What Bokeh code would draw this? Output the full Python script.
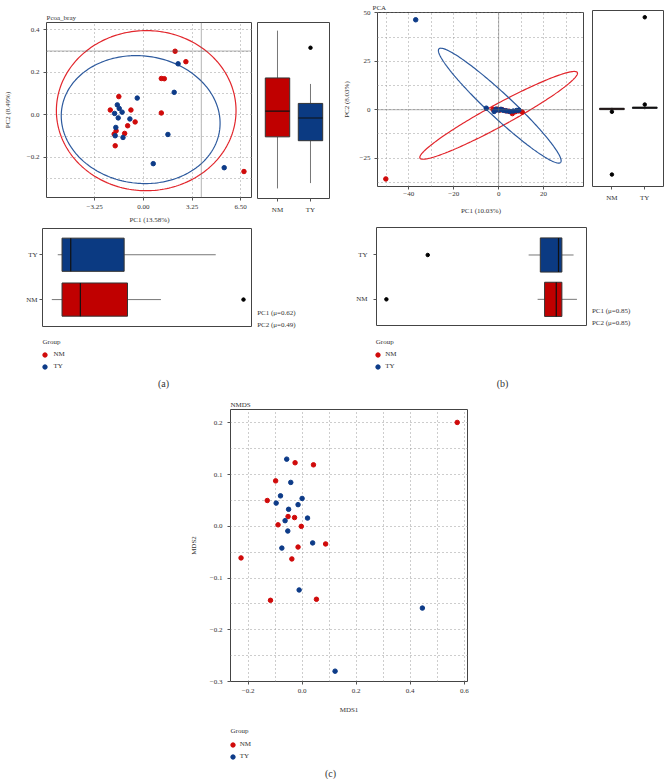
import numpy as np
from bokeh.plotting import figure
from bokeh.models import FixedTicker, Span, Label, Legend, LegendItem, Spacer
from bokeh.layouts import column, row
from bokeh.embed import file_html
from bokeh.resources import INLINE

# ---------------- data ----------------
groups = ["NM", "TY"]
group_pos = [1, 2]

# (a) PCoA (bray)
pcoa_nm_x = [2.12, 2.84, 1.20, 1.40, -1.64, -2.21, -0.83, 1.20, -0.55, -1.05, -1.25, -1.95, -1.82, -1.88, 6.72]
pcoa_nm_y = [0.299, 0.250, 0.171, 0.170, 0.086, 0.023, 0.023, 0.009, -0.033, -0.051, -0.087, -0.090, -0.075, -0.145, -0.266]
pcoa_ty_x = [2.32, 2.06, -0.41, -1.74, -1.61, -1.42, -1.92, -1.68, -0.90, -1.84, -1.88, -1.36, 1.64, 0.66, 5.40]
pcoa_ty_y = [0.240, 0.106, 0.079, 0.047, 0.030, 0.013, 0.007, -0.014, -0.019, -0.059, -0.098, -0.106, -0.092, -0.229, -0.248]
pcoa_x_ticks = [-3.25, 0.0, 3.25, 6.5]
pcoa_x_labels = ["\u22123.25", "0.00", "3.25", "6.50"]
pcoa_y_ticks = [-0.2, 0.0, 0.2, 0.4]
pcoa_y_labels = ["\u22120.2", "0.0", "0.2", "0.4"]
pcoa_ygrid = [-0.3, -0.2, -0.1, 0.0, 0.1, 0.2, 0.3, 0.4]
pcoa_ref_x = 3.87
pcoa_ref_y = 0.3
pcoa_ell_nm = dict(c=(0.19, 0.02), u=(6.0, 0.0), v=(0.0, 0.376))
pcoa_ell_ty = dict(c=(-0.18, -0.022), u=(5.28, -0.046), v=(-0.51, -0.297))
pcoa_pc2_lo = [-0.341, -0.316]
pcoa_pc2_q1 = [-0.100, -0.118]
pcoa_pc2_med = [0.020, -0.012]
pcoa_pc2_q3 = [0.175, 0.056]
pcoa_pc2_hi = [0.396, 0.147]
pcoa_pc2_out_grp = [2]
pcoa_pc2_out_val = [0.316]
pcoa_pc1_lo = [-5.86, -5.47]
pcoa_pc1_q1 = [-5.19, -5.19]
pcoa_pc1_med = [-3.99, -4.62]
pcoa_pc1_q3 = [-0.90, -1.12]
pcoa_pc1_hi = [1.29, 4.88]
pcoa_pc1_out_grp = [1]
pcoa_pc1_out_val = [6.70]
pcoa_mu = ["PC1 (\u03bc=0.62)", "PC2 (\u03bc=0.49)"]

# (b) PCA
pca_nm_x = [-50.2, -2.5, -1.5, -0.5, 0.5, 1.5, 3.0, 4.5, 6.1, 7.5, 9.0, 10.5]
pca_nm_y = [-35.7, 0.2, -0.3, 0.3, -0.2, 0.1, -0.5, -0.8, -2.0, -1.0, -0.6, -1.2]
pca_ty_x = [-36.9, -5.5, -2.0, -1.2, 0.0, 1.0, 2.0, 3.5, 5.0, 6.5, 8.0, 9.0]
pca_ty_y = [46.4, 0.8, -0.9, 0.3, -0.2, 0.2, -0.3, -0.6, -0.9, -0.7, -0.4, -0.2]
pca_x_ticks = [-40, -20, 0, 20]
pca_x_labels = ["\u221240", "\u221220", "0", "20"]
pca_y_ticks = [-25, 0, 25, 50]
pca_y_labels = ["\u221225", "0", "25", "50"]
pca_xgrid = [-50, -40, -30, -20, -10, 0, 10, 20, 30]
pca_ygrid = [-37.5, -25, -12.5, 0, 12.5, 25, 37.5, 50]
pca_ell_nm = dict(c=(0.0, -2.9), u=(35.0, 22.1), v=(2.4, -4.9))
pca_ell_ty = dict(c=(0.5, 2.1), u=(27.05, -29.3), v=(3.7, 4.4))
pca_pc2_lo = [-0.8, -0.3]
pca_pc2_q1 = [-0.4, 0.2]
pca_pc2_med = [0.0, 0.6]
pca_pc2_q3 = [0.3, 0.9]
pca_pc2_hi = [0.6, 1.3]
pca_pc2_out_grp = [1, 1, 2, 2]
pca_pc2_out_val = [-1.5, -33.5, 2.2, 46.7]
pca_pc1_lo = [17.5, 13.5]
pca_pc1_q1 = [20.6, 18.7]
pca_pc1_med = [25.8, 26.8]
pca_pc1_q3 = [28.3, 28.3]
pca_pc1_hi = [35.0, 33.5]
pca_pc1_out_grp = [1, 2]
pca_pc1_out_val = [-49.8, -31.4]
pca_mu = ["PC1 (\u03bc=0.85)", "PC2 (\u03bc=0.85)"]

# (c) NMDS
nmds_nm_x = [-0.026, 0.042, -0.098, -0.129, -0.052, -0.028, -0.089, -0.003, 0.087, -0.015, -0.038, -0.226, -0.117, 0.053, 0.574]
nmds_nm_y = [0.123, 0.119, 0.088, 0.050, 0.019, 0.017, 0.003, 0.000, -0.034, -0.040, -0.063, -0.061, -0.143, -0.141, 0.201]
nmds_ty_x = [-0.057, -0.042, -0.080, -0.096, 0.000, -0.015, -0.050, 0.020, -0.063, -0.053, 0.039, -0.075, -0.011, 0.445, 0.122]
nmds_ty_y = [0.130, 0.085, 0.059, 0.045, 0.054, 0.042, 0.033, 0.016, 0.011, -0.009, -0.032, -0.042, -0.123, -0.158, -0.280]
nmds_x_ticks = [-0.2, 0.0, 0.2, 0.4, 0.6]
nmds_x_labels = ["\u22120.2", "0.0", "0.2", "0.4", "0.6"]
nmds_y_ticks = [-0.3, -0.2, -0.1, 0.0, 0.1, 0.2]
nmds_y_labels = ["\u22120.3", "\u22120.2", "\u22120.1", "0.0", "0.1", "0.2"]
nmds_xgrid = [-0.2, -0.1, 0.0, 0.1, 0.2, 0.3, 0.4, 0.5, 0.6]
nmds_ygrid = [-0.3, -0.25, -0.2, -0.15, -0.1, -0.05, 0.0, 0.05, 0.1, 0.15, 0.2]

# ---------------- styling ----------------
FONT = "Liberation Serif"
FS = "7px"
TXT = "#333333"
RED = "#d00a0a"
BLUE = "#0d3b88"
RED_FILL = "#c00000"
BLUE_FILL = "#0b3a82"
RED_LINE = "#e2262c"
BLUE_LINE = "#2d5a9e"
FILLS = [RED_FILL, BLUE_FILL]


def make_fig(w, h, xr, yr, bl, br, bt, bb, xloc="below", yloc="left", title=None, title_offset=0):
    p = figure(width=w, height=h, x_range=xr, y_range=yr,
               min_border_left=bl, min_border_right=br,
               min_border_top=bt, min_border_bottom=bb,
               x_axis_location=xloc, y_axis_location=yloc,
               output_backend="svg", toolbar_location=None, tools="")
    p.frame_align = False
    p.outline_line_color = "#444444"
    p.outline_line_width = 1
    p.background_fill_color = "white"
    p.border_fill_color = "white"
    p.grid.grid_line_color = None
    if title:
        p.title.text = title
        p.title.text_font = FONT
        p.title.text_font_size = FS
        p.title.text_font_style = "normal"
        p.title.text_color = TXT
        p.title.align = "left"
        p.title.standoff = 2
        p.title.offset = title_offset
    else:
        p.title.visible = False
    return p


def aux(w, h):
    p = figure(width=w, height=h, x_range=(0, w), y_range=(h, 0),
               min_border_left=0, min_border_right=0, min_border_top=0, min_border_bottom=0,
               x_axis_location=None, y_axis_location=None,
               output_backend="svg", toolbar_location=None, tools="")
    p.frame_align = False
    p.outline_line_color = None
    p.grid.grid_line_color = None
    p.title.visible = False
    return p


def style_axis(ax, ticks, labels, standoff, label=None, label_standoff=5):
    ax.ticker = FixedTicker(ticks=ticks)
    ax.major_label_overrides = dict(zip(ticks, labels))
    ax.major_label_text_font = FONT
    ax.major_label_text_font_size = FS
    ax.major_label_text_color = TXT
    ax.major_label_standoff = standoff
    ax.major_tick_out = 3
    ax.major_tick_in = 0
    ax.minor_tick_out = 0
    ax.minor_tick_in = 0
    ax.major_tick_line_color = "#555555"
    ax.axis_line_color = None
    if label is not None:
        ax.axis_label = label
        ax.axis_label_text_font = FONT
        ax.axis_label_text_font_size = FS
        ax.axis_label_text_font_style = "normal"
        ax.axis_label_text_color = TXT
        ax.axis_label_standoff = label_standoff


def style_grid(p, xt, yt):
    p.xgrid.ticker = FixedTicker(ticks=xt)
    p.ygrid.ticker = FixedTicker(ticks=yt)
    for g in (p.xgrid, p.ygrid):
        g.grid_line_color = "#9a9a9a"
        g.grid_line_dash = "1 3"
        g.grid_line_width = 1


def text(p, x, y, s, size=FS, align="left"):
    p.add_layout(Label(x=x, y=y, text=s, text_font=FONT, text_font_size=size,
                       text_color=TXT, text_align=align, text_baseline="middle"))


def ellipse(p, e, color):
    t = np.linspace(0, 2 * np.pi, 240)
    (cx, cy), (ux, uy), (vx, vy) = e["c"], e["u"], e["v"]
    p.line(cx + ux * np.cos(t) + vx * np.sin(t), cy + uy * np.cos(t) + vy * np.sin(t),
           line_color=color, line_width=1.2)


def vbox(p, lo, q1, med, q3, hi, og, ov, w=0.74):
    p.segment(x0=group_pos, y0=lo, x1=group_pos, y1=q1, line_color="#777777", line_width=1)
    p.segment(x0=group_pos, y0=q3, x1=group_pos, y1=hi, line_color="#777777", line_width=1)
    p.vbar(x=group_pos, bottom=q1, top=q3, width=w, fill_color=FILLS, line_color="#333333", line_width=1)
    p.segment(x0=[g - w / 2 for g in group_pos], y0=med, x1=[g + w / 2 for g in group_pos], y1=med,
              line_color="#111111", line_width=1.2)
    p.scatter(x=og, y=ov, size=3.5, color="black")


def hbox(p, lo, q1, med, q3, hi, og, ov, w=0.74):
    p.segment(y0=group_pos, x0=lo, y1=group_pos, x1=q1, line_color="#777777", line_width=1)
    p.segment(y0=group_pos, x0=q3, y1=group_pos, x1=hi, line_color="#777777", line_width=1)
    p.hbar(y=group_pos, left=q1, right=q3, height=w, fill_color=FILLS, line_color="#333333", line_width=1)
    p.segment(y0=[g - w / 2 for g in group_pos], x0=med, y1=[g + w / 2 for g in group_pos], x1=med,
              line_color="#111111", line_width=1.2)
    p.scatter(x=ov, y=og, size=3.5, color="black")


def legend_panel(w, h, gx, gy, dot_x, nm_y, standoff, cap, cap_x, cap_y, nm_xy, ty_xy):
    p = aux(w, h)
    # group series carried by hidden renderers; only their legend swatches are shown
    rn = p.scatter(x=nm_xy[0], y=nm_xy[1], size=4.5, color=RED, visible=False)
    rt = p.scatter(x=ty_xy[0], y=ty_xy[1], size=4.5, color=BLUE, visible=False)
    lg = Legend(items=[LegendItem(label=groups[0], renderers=[rn]),
                       LegendItem(label=groups[1], renderers=[rt])],
                location=(float(dot_x - 5.5), float(h - (nm_y + 12 + 5.5))))
    lg.label_text_font = FONT
    lg.label_text_font_size = FS
    lg.label_text_color = TXT
    lg.glyph_width = 11
    lg.glyph_height = 11
    lg.label_height = 11
    lg.label_standoff = int(round(standoff))
    lg.spacing = 1
    lg.padding = 0
    lg.margin = 0
    lg.click_policy = "none"
    lg.inactive_fill_alpha = 0
    lg.border_line_color = None
    lg.background_fill_alpha = 0
    p.add_layout(lg)
    text(p, gx, gy, "Group")
    text(p, cap_x, cap_y, cap, size="10px", align="center")
    return p


# ---------------- (a) ----------------
A1 = make_fig(252, 226, (-6.47, 7.29), (-0.388, 0.434), 42, 0, 22, 28, title="Pcoa_bray")
style_axis(A1.xaxis[0], pcoa_x_ticks, pcoa_x_labels, 4, "PC1 (13.58%)", 4)
style_axis(A1.yaxis[0], pcoa_y_ticks, pcoa_y_labels, 4, "PC2 (8.49%)", 12)
style_grid(A1, pcoa_x_ticks, pcoa_ygrid)
A1.add_layout(Span(location=pcoa_ref_x, dimension="height", line_color="#666666", line_dash="1 1", line_width=1))
A1.add_layout(Span(location=pcoa_ref_y, dimension="width", line_color="#666666", line_dash="1 1", line_width=1))
ellipse(A1, pcoa_ell_nm, RED_LINE)
ellipse(A1, pcoa_ell_ty, BLUE_LINE)
A1.scatter(pcoa_nm_x, pcoa_nm_y, size=4.5, color=RED)
A1.scatter(pcoa_ty_x, pcoa_ty_y, size=4.5, color=BLUE)

A2 = make_fig(78, 226, (0.394, 2.576), A1.y_range, 5, 1, 22, 28, yloc=None)
style_axis(A2.xaxis[0], group_pos, groups, 4)
vbox(A2, pcoa_pc2_lo, pcoa_pc2_q1, pcoa_pc2_med, pcoa_pc2_q3, pcoa_pc2_hi, pcoa_pc2_out_grp, pcoa_pc2_out_val)

A3 = make_fig(252, 105, A1.x_range, (0.4, 2.585), 42, 0, 2, 5, xloc=None)
style_axis(A3.yaxis[0], group_pos, groups, 2)
hbox(A3, pcoa_pc1_lo, pcoa_pc1_q1, pcoa_pc1_med, pcoa_pc1_q3, pcoa_pc1_hi, pcoa_pc1_out_grp, pcoa_pc1_out_val)

A3t = aux(78, 105)
text(A3t, 4.7, 86, pcoa_mu[0])
text(A3t, 4.7, 98, pcoa_mu[1])

Aleg = legend_panel(330, 64, 42, 10, 44, 23, 3.5, "(a)", 163, 52,
                    (pcoa_nm_x, pcoa_nm_y), (pcoa_ty_x, pcoa_ty_y))

# ---------------- (b) ----------------
B1 = make_fig(254, 226, (-53.9, 38.2), (-39.6, 50.15), 47, 0, 10, 40, title="PCA", title_offset=-5)
style_axis(B1.xaxis[0], pca_x_ticks, pca_x_labels, 2, "PC1 (10.03%)", 8)
style_axis(B1.yaxis[0], pca_y_ticks, pca_y_labels, 4, "PC2 (8.03%)", 6)
style_grid(B1, pca_xgrid, pca_ygrid)
B1.add_layout(Span(location=0, dimension="height", line_color="#666666", line_dash="1 1", line_width=1))
B1.add_layout(Span(location=0, dimension="width", line_color="#666666", line_dash="1 1", line_width=1))
ellipse(B1, pca_ell_nm, RED_LINE)
ellipse(B1, pca_ell_ty, BLUE_LINE)
B1.scatter(pca_nm_x, pca_nm_y, size=4.5, color=RED)
B1.scatter(pca_ty_x, pca_ty_y, size=4.5, color=BLUE)

B2 = make_fig(80, 226, (0.41, 2.6), B1.y_range, 8, 0, 10, 40, yloc=None)
style_axis(B2.xaxis[0], group_pos, groups, 4)
vbox(B2, pca_pc2_lo, pca_pc2_q1, pca_pc2_med, pca_pc2_q3, pca_pc2_hi, pca_pc2_out_grp, pca_pc2_out_val, w=0.75)

B3 = make_fig(257, 105, (-54.2, 39.7), (0.41, 2.62), 46, 0, 1, 6, xloc=None)
style_axis(B3.yaxis[0], group_pos, groups, 6)
hbox(B3, pca_pc1_lo, pca_pc1_q1, pca_pc1_med, pca_pc1_q3, pca_pc1_hi, pca_pc1_out_grp, pca_pc1_out_val, w=0.77)

B3t = aux(77, 105)
text(B3t, 4.4, 84, pca_mu[0])
text(B3t, 4.4, 96.3, pca_mu[1])

Bleg = legend_panel(334, 64, 45.3, 10, 47.7, 23, 2, "(b)", 172, 52,
                    (pca_nm_x, pca_nm_y), (pca_ty_x, pca_ty_y))

# ---------------- (c) ----------------
C = make_fig(357, 323, (-0.265, 0.612), (-0.3, 0.226), 100, 20, 14, 37, title="NMDS")
style_axis(C.xaxis[0], nmds_x_ticks, nmds_x_labels, 4, "MDS1", 10)
style_axis(C.yaxis[0], nmds_y_ticks, nmds_y_labels, 5, "MDS2", 9)
style_grid(C, nmds_xgrid, nmds_ygrid)
C.scatter(nmds_nm_x, nmds_nm_y, size=4.5, color=RED)
C.scatter(nmds_ty_x, nmds_ty_y, size=4.5, color=BLUE)

Cleg = legend_panel(357, 61, 100, 12.7, 102.3, 26, 2.2, "(c)", 200, 55,
                    (nmds_nm_x, nmds_nm_y), (nmds_ty_x, nmds_ty_y))

layout = column(
    row(A1, A2, B1, B2),
    row(A3, A3t, B3, B3t),
    row(Aleg, Bleg),
    row(Spacer(width=130, height=323), C),
    row(Spacer(width=130, height=61), Cleg),
)

open("out.html", "w").write(file_html(layout, INLINE))
